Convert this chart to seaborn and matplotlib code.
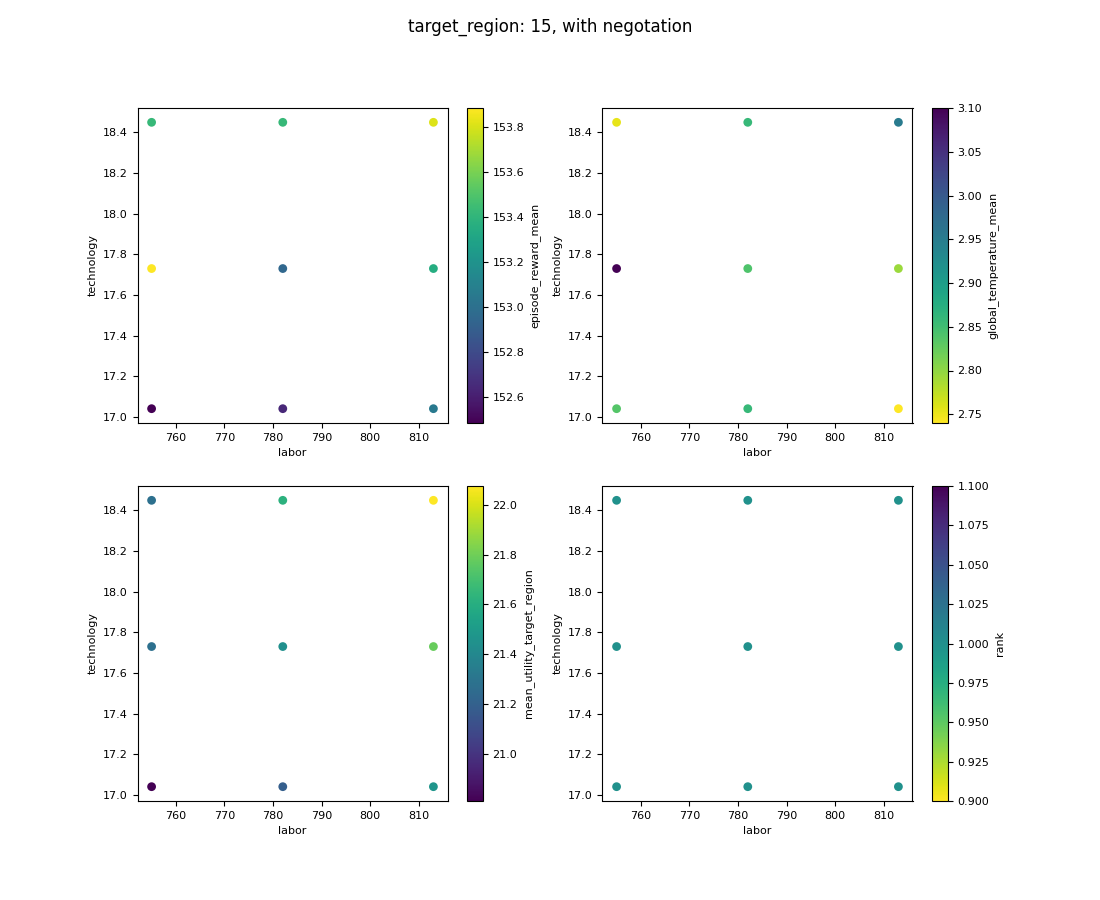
import pandas as pd
import matplotlib
matplotlib.use("Agg")
import matplotlib.pyplot as plt
import seaborn as sns

labor = [755, 782, 813, 755, 782, 813, 755, 782, 813]
technology = [17.04, 17.04, 17.04, 17.73, 17.73, 17.73, 18.45, 18.45, 18.45]

episode_reward_mean = [152.484, 152.64, 153.05, 153.884, 152.95, 153.35, 153.42, 153.42, 153.81]
global_temperature_mean = [2.837, 2.859, 2.74, 3.10, 2.841, 2.794, 2.754, 2.859, 2.952]
mean_utility_target_region = [20.81, 21.19, 21.47, 21.27, 21.44, 21.78, 21.27, 21.62, 22.076]
rank = [1.0, 1.0, 1.0, 1.0, 1.0, 1.0, 1.0, 1.0, 1.0]

df = pd.DataFrame({
    "labor": labor,
    "technology": technology,
    "episode_reward_mean": episode_reward_mean,
    "global_temperature_mean": global_temperature_mean,
    "mean_utility_target_region": mean_utility_target_region,
    "rank": rank,
})

plt.rcParams["font.size"] = 8

fig, axes = plt.subplots(2, 2, figsize=(11, 9), dpi=100)
panels = [
    ("episode_reward_mean", "viridis", None, None),
    ("global_temperature_mean", "viridis_r", None, None),
    ("mean_utility_target_region", "viridis", None, None),
    ("rank", "viridis_r", 0.9, 1.1),
]

for ax, (col, cmap, vmin, vmax) in zip(axes.flat, panels):
    vmin = df[col].min() if vmin is None else vmin
    vmax = df[col].max() if vmax is None else vmax
    norm = plt.Normalize(vmin, vmax)
    sns.scatterplot(data=df, x="labor", y="technology", hue=col, hue_norm=norm,
                    palette=cmap, legend=False, s=40, edgecolor="none", ax=ax)
    ax.set_xlabel("labor")
    ax.set_ylabel("technology")
    ax.set_xticks([760, 770, 780, 790, 800, 810])
    sm = plt.cm.ScalarMappable(norm=norm, cmap=cmap)
    fig.colorbar(sm, ax=ax, label=col)

fig.suptitle("target_region: 15, with negotation", fontsize=12)
plt.savefig("out.png")
